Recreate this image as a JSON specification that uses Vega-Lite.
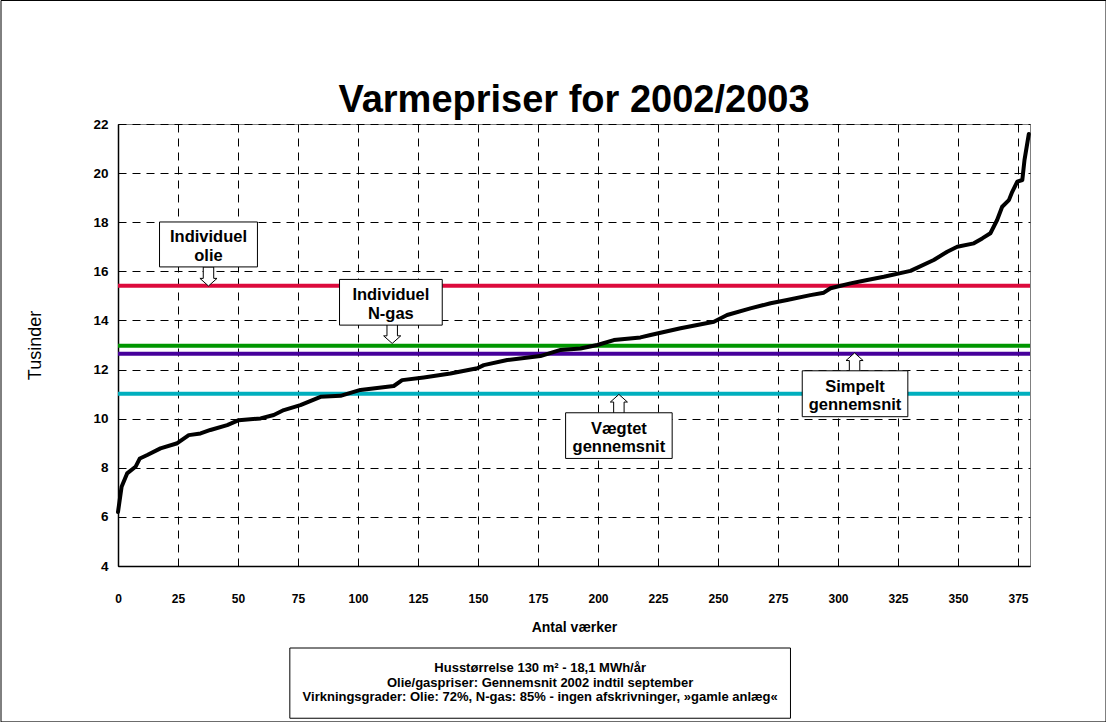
{
  "$schema": "https://vega.github.io/schema/vega-lite/v6.json",
  "width": 912,
  "height": 442,
  "autosize": {"type": "none"},
  "padding": {"left": 118, "top": 124, "right": 76, "bottom": 156},
  "background": "white",
  "title": {"text": "Varmepriser for 2002/2003", "fontSize": 38, "fontWeight": "bold", "font": "Liberation Sans", "anchor": "middle", "frame": "group", "offset": -120, "color": "black"},
  "datasets": {
    "frame": [{"x1": -48.75, "x2": 411.67, "y1": 27.03, "y2": -2.35}],
    "levels": [
      {"name": "Individuel olie", "value": 15.41},
      {"name": "Individuel N-gas", "value": 12.97},
      {"name": "Simpelt gennemsnit", "value": 12.64},
      {"name": "Vægtet gennemsnit", "value": 11.01}
    ],
    "curve": [
      {"x": 0, "y": 6.2}, {"x": 1.5, "y": 7.23}, {"x": 3.8, "y": 7.77}, {"x": 7.3, "y": 8.04}, {"x": 9.1, "y": 8.38},
      {"x": 12.2, "y": 8.52}, {"x": 17.7, "y": 8.79}, {"x": 24.7, "y": 9.0}, {"x": 29.5, "y": 9.33}, {"x": 34.4, "y": 9.4},
      {"x": 38.5, "y": 9.54}, {"x": 45.5, "y": 9.74}, {"x": 50.3, "y": 9.94}, {"x": 59.4, "y": 10.01}, {"x": 64.9, "y": 10.15},
      {"x": 69.1, "y": 10.35}, {"x": 76, "y": 10.55}, {"x": 84.4, "y": 10.89}, {"x": 92.7, "y": 10.93}, {"x": 101, "y": 11.17},
      {"x": 114.9, "y": 11.33}, {"x": 118.4, "y": 11.57}, {"x": 127.4, "y": 11.68}, {"x": 138.5, "y": 11.84}, {"x": 149.7, "y": 12.05},
      {"x": 152.4, "y": 12.18}, {"x": 162.2, "y": 12.39}, {"x": 176, "y": 12.55}, {"x": 184.4, "y": 12.8}, {"x": 192.7, "y": 12.86},
      {"x": 199.7, "y": 13.0}, {"x": 206.6, "y": 13.2}, {"x": 217.7, "y": 13.31}, {"x": 221.9, "y": 13.41}, {"x": 234.4, "y": 13.68},
      {"x": 248.3, "y": 13.95}, {"x": 253.8, "y": 14.22}, {"x": 263.5, "y": 14.49}, {"x": 271.9, "y": 14.7}, {"x": 278.8, "y": 14.83},
      {"x": 288.5, "y": 15.03}, {"x": 294.1, "y": 15.13}, {"x": 296.9, "y": 15.31}, {"x": 305.2, "y": 15.51}, {"x": 312.2, "y": 15.65},
      {"x": 319.1, "y": 15.78}, {"x": 330.2, "y": 16.02}, {"x": 339.9, "y": 16.46}, {"x": 345.5, "y": 16.8}, {"x": 349.7, "y": 17.0},
      {"x": 356.6, "y": 17.14}, {"x": 360.1, "y": 17.34}, {"x": 363.5, "y": 17.55}, {"x": 366.3, "y": 18.09}, {"x": 368.4, "y": 18.63},
      {"x": 371.2, "y": 18.9}, {"x": 372.6, "y": 19.24}, {"x": 374.7, "y": 19.65}, {"x": 376.8, "y": 19.72}, {"x": 377.7, "y": 20.53},
      {"x": 379.5, "y": 21.59}
    ],
    "arrows": [
      {"x": 37.7, "y": 15.79, "dir": "down"},
      {"x": 114.25, "y": 13.45, "dir": "down"},
      {"x": 208.7, "y": 10.6, "dir": "up"},
      {"x": 306.9, "y": 12.29, "dir": "up"}
    ],
    "boxes": [
      {"x1": 17.3, "x2": 58.1, "y1": 18.01, "y2": 16.18, "label": "Individuel|olie"},
      {"x1": 92.3, "x2": 135.1, "y1": 15.67, "y2": 13.81, "label": "Individuel|N-gas"},
      {"x1": 186.5, "x2": 230.9, "y1": 10.24, "y2": 8.38, "label": "Vægtet|gennemsnit"},
      {"x1": 285.1, "x2": 329.1, "y1": 11.95, "y2": 10.08, "label": "Simpelt|gennemsnit"}
    ],
    "note": [
      {"x1": 71.6, "x2": 280.2, "y1": 0.66, "y2": -2.2, "label": "Husstørrelse 130 m² - 18,1 MWh/år|Olie/gaspriser: Gennemsnit 2002 indtil september|Virkningsgrader: Olie: 72%, N-gas: 85% - ingen afskrivninger, »gamle anlæg«"}
    ]
  },
  "layer": [
    {
      "data": {"name": "frame"},
      "mark": {"type": "rect", "filled": false, "stroke": "black", "strokeWidth": 1, "clip": false},
      "encoding": {
        "x": {"field": "x1", "type": "quantitative", "scale": {"domain": [0, 380], "nice": false, "zero": false},
          "axis": {"title": "Antal værker", "values": [0, 25, 50, 75, 100, 125, 150, 175, 200, 225, 250, 275, 300, 325, 350, 375],
            "grid": true, "gridColor": "black", "gridDash": [8, 6], "gridWidth": 1, "ticks": false,
            "domainColor": "black", "domainWidth": 1.5, "labelFont": "Liberation Sans Narrow, Liberation Sans", "labelFontWeight": "bold",
            "labelFontSize": 12, "labelPadding": 27, "labelColor": "black", "labelFlush": false,
            "titleFont": "Liberation Sans", "titleFontSize": 14, "titleFontWeight": "bold", "titleY": 61, "titleBaseline": "middle", "titleColor": "black"}},
        "x2": {"field": "x2"},
        "y": {"field": "y1", "type": "quantitative", "scale": {"domain": [4, 22], "nice": false, "zero": false},
          "axis": {"title": "Tusinder", "values": [4, 6, 8, 10, 12, 14, 16, 18, 20, 22],
            "grid": true, "gridColor": "black", "gridDash": [8, 6], "gridWidth": 1, "ticks": false,
            "domainColor": "black", "domainWidth": 1.5, "labelFont": "Liberation Sans", "labelFontWeight": "bold",
            "labelFontSize": 13.5, "labelPadding": 10, "labelColor": "black",
            "titleFont": "Liberation Sans", "titleFontSize": 18, "titleFontWeight": "normal", "titleAngle": -90,
            "titleX": -83, "titleY": 221, "titleBaseline": "middle", "titleAlign": "center", "titleColor": "black"}},
        "y2": {"field": "y2"}
      }
    },
    {
      "data": {"name": "levels"},
      "mark": {"type": "rule", "strokeWidth": 4},
      "encoding": {
        "y": {"field": "value", "type": "quantitative"},
        "color": {"field": "name", "type": "nominal", "legend": null,
          "scale": {"domain": ["Individuel olie", "Individuel N-gas", "Simpelt gennemsnit", "Vægtet gennemsnit"], "range": ["#DC0A3C", "#009600", "#46009B", "#00AFBE"]}}
      }
    },
    {
      "data": {"name": "curve"},
      "mark": {"type": "line", "color": "black", "strokeWidth": 4, "strokeJoin": "round", "strokeCap": "round"},
      "encoding": {
        "x": {"field": "x", "type": "quantitative"},
        "y": {"field": "y", "type": "quantitative"}
      }
    },
    {
      "data": {"name": "arrows"},
      "mark": {"type": "point", "filled": true, "fill": "white", "stroke": "black", "strokeWidth": 1, "size": 361, "opacity": 1},
      "encoding": {
        "x": {"field": "x", "type": "quantitative"},
        "y": {"field": "y", "type": "quantitative"},
        "shape": {"field": "dir", "type": "nominal", "legend": null,
          "scale": {"domain": ["down", "up"], "range": ["M-0.55,-1L0.55,-1L0.55,0.2L0.9,0.2L0,1L-0.9,0.2L-0.55,0.2Z", "M-0.55,1L0.55,1L0.55,-0.2L0.9,-0.2L0,-1L-0.9,-0.2L-0.55,-0.2Z"]}}
      }
    },
    {
      "data": {"name": "boxes"},
      "mark": {"type": "rect", "fill": "white", "stroke": "black", "strokeWidth": 1},
      "encoding": {
        "x": {"field": "x1", "type": "quantitative"},
        "x2": {"field": "x2"},
        "y": {"field": "y1", "type": "quantitative"},
        "y2": {"field": "y2"}
      }
    },
    {
      "data": {"name": "boxes"},
      "transform": [{"calculate": "(datum.x1 + datum.x2) / 2", "as": "cx"}, {"calculate": "(datum.y1 + datum.y2) / 2", "as": "cy"}],
      "mark": {"type": "text", "font": "Liberation Sans", "fontSize": 16.5, "fontWeight": "bold", "color": "black", "lineBreak": "|", "lineHeight": 18.5, "align": "center", "baseline": "middle", "dy": -7},
      "encoding": {
        "x": {"field": "cx", "type": "quantitative"},
        "y": {"field": "cy", "type": "quantitative"},
        "text": {"field": "label"}
      }
    },
    {
      "data": {"name": "note"},
      "mark": {"type": "rect", "fill": "white", "stroke": "black", "strokeWidth": 1, "clip": false},
      "encoding": {
        "x": {"field": "x1", "type": "quantitative"},
        "x2": {"field": "x2"},
        "y": {"field": "y1", "type": "quantitative"},
        "y2": {"field": "y2"}
      }
    },
    {
      "data": {"name": "note"},
      "transform": [{"calculate": "(datum.x1 + datum.x2) / 2", "as": "cx"}, {"calculate": "(datum.y1 + datum.y2) / 2", "as": "cy"}],
      "mark": {"type": "text", "font": "Liberation Sans", "fontSize": 13, "fontWeight": "bold", "color": "black", "lineBreak": "|", "lineHeight": 14.5, "align": "center", "baseline": "middle", "dy": -15, "clip": false},
      "encoding": {
        "x": {"field": "cx", "type": "quantitative"},
        "y": {"field": "cy", "type": "quantitative"},
        "text": {"field": "label"}
      }
    }
  ],
  "config": {"view": {"stroke": "#808080"}, "font": "Liberation Sans"}
}
